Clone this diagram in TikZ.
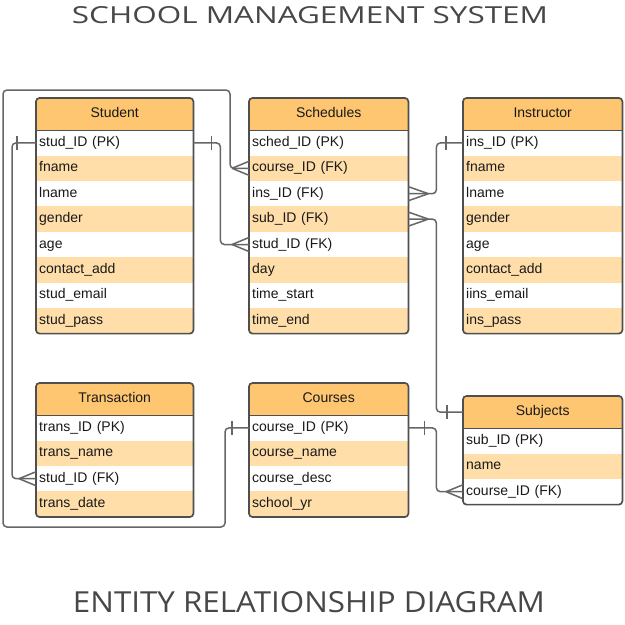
\documentclass[tikz,border=0pt]{standalone}
\usepackage{fontspec}
\setmainfont{Liberation Sans}
\newfontfamily\titlefont{Open Sans}
\definecolor{hdrc}{HTML}{FEC671}
\definecolor{rowc}{HTML}{FFDEAA}
\definecolor{tblc}{HTML}{4F4F4F}
\definecolor{connc}{HTML}{666666}
\tikzset{
  hdr/.style={rectangle, anchor=north west, fill=hdrc, inner sep=0pt, minimum height=32pt,
    font=\fontsize{14}{16}\selectfont, text height=10pt, text depth=3pt, text=black!90},
  rowbox/.style={rectangle, anchor=north west, inner xsep=3pt, inner ysep=0pt, minimum height=25.4pt,
    align=left, font=\fontsize{14}{16}\selectfont, text height=10pt, text depth=3pt, text=black!90},
  tbl/.style={draw=tblc, line width=1.7pt},
  conn/.style={draw=connc, line width=1.5pt},
  connr/.style={conn, rounded corners=4pt},
}
\newcommand\ertable[7]{%
  \pgfmathsetmacro\tw{#4-6}%
  \begin{scope}
    \clip[rounded corners=3.5pt] (#2,#3) rectangle ({#2+#4},{#3+32+25.4*#6});
    \node[hdr, minimum width=#4pt] (#1h) at (#2,#3) {#5};
    \foreach \t [count=\k] in {#7} {
      \ifodd\k \def\rc{white}\else\def\rc{rowc}\fi
      \node[rowbox, fill=\rc, text width=\tw pt] (#1-\k) at (#2,{#3+32+25.4*(\k-1)}) {\t};
    }
  \end{scope}
  \draw[tbl, rounded corners=3.5pt] (#1h.north west) rectangle (#1-#6.south east);
  \draw[tbl] (#1h.south west) -- (#1h.south east);
}
\newcommand\crowW[1]{\draw[conn] ([xshift=-17pt]#1) -- ([yshift=7pt]#1) ([xshift=-17pt]#1) -- ([yshift=-7pt]#1);}
\newcommand\crowE[1]{\draw[conn] ([xshift=20pt]#1) -- ([yshift=7pt]#1) ([xshift=20pt]#1) -- ([yshift=-7pt]#1);}
\newcommand\tickat[2]{\draw[conn] ([xshift=#2,yshift=7pt]#1) -- ([xshift=#2,yshift=-7pt]#1);}
\begin{document}
\begin{tikzpicture}[x=1pt,y=-1pt]
\fill[white] (0,0) rectangle (625,625);
\useasboundingbox (0,0) rectangle (625,625);

\node[inner sep=0pt, anchor=south, text=black!72] (t1) at (310,24)
  {\resizebox{476pt}{17pt}{\titlefont SCHOOL MANAGEMENT SYSTEM}};
\node[inner sep=0pt, anchor=south, text=black!72] (t2) at (309,613)
  {\resizebox{472pt}{21pt}{\titlefont ENTITY RELATIONSHIP DIAGRAM}};

\ertable{stu}{36}{98}{157}{Student}{8}{{stud\_ID (PK)},fname,lname,gender,age,{contact\_add},{stud\_email},{stud\_pass}}
\ertable{sch}{249}{98}{159}{Schedules}{8}{{sched\_ID (PK)},{course\_ID (FK)},{ins\_ID (FK)},{sub\_ID (FK)},{stud\_ID (FK)},day,{time\_start},{time\_end}}
\ertable{ins}{463}{98}{159}{Instructor}{8}{{ins\_ID (PK)},fname,lname,gender,age,{contact\_add},{iins\_email},{ins\_pass}}
\ertable{tra}{36}{383}{157}{Transaction}{4}{{trans\_ID (PK)},{trans\_name},{stud\_ID (FK)},{trans\_date}}
\ertable{cou}{249}{383}{159}{Courses}{4}{{course\_ID (PK)},{course\_name},{course\_desc},{school\_yr}}
\ertable{sub}{463}{396}{159}{Subjects}{3}{{sub\_ID (PK)},name,{course\_ID (FK)}}

\coordinate (lpb) at (3,527);
\coordinate (lpt) at (3,90);

% Student PK -> Schedules stud_ID FK
\draw[connr] (stu-1.east) -- ([xshift=27pt]stu-1.east) |- (sch-5.west);
\tickat{stu-1.east}{18pt}
\crowW{sch-5.west}
% Student PK -> Transaction stud_ID FK
\draw[connr] (stu-1.west) -- ([xshift=-24pt]stu-1.west) |- (tra-3.west);
\tickat{stu-1.west}{-19pt}
\crowW{tra-3.west}
% Courses PK -> Schedules course_ID FK
\draw[connr] (cou-1.west) -- ([xshift=-24pt]cou-1.west) |- (lpb) -- (lpt) -| ([xshift=-19pt]sch-2.west) -- (sch-2.west);
\tickat{cou-1.west}{-17pt}
\crowW{sch-2.west}
% Instructor PK -> Schedules ins_ID FK
\draw[connr] (sch-3.east) -- ([xshift=28pt]sch-3.east) |- (ins-1.west);
\tickat{ins-1.west}{-17pt}
\crowE{sch-3.east}
% Subjects -> Schedules sub_ID FK
\draw[connr] (sch-4.east) -- ([xshift=28pt]sch-4.east) |- (subh.west);
\tickat{subh.west}{-16pt}
\crowE{sch-4.east}
% Courses PK -> Subjects course_ID FK
\draw[connr] (cou-1.east) -- ([xshift=28pt]cou-1.east) |- (sub-3.west);
\tickat{cou-1.east}{16pt}
\crowW{sub-3.west}
\end{tikzpicture}
\end{document}
